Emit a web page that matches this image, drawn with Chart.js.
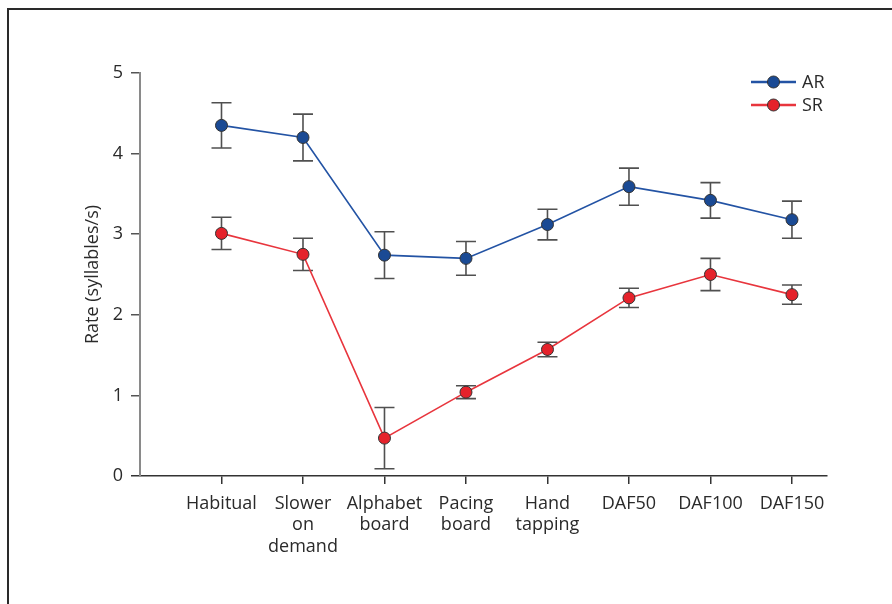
<!DOCTYPE html>
<html>
<head>
<meta charset="utf-8">
<script src="https://cdn.jsdelivr.net/npm/chart.js@4"></script>
<style>
  html, body { margin: 0; padding: 0; background: #fff; }
  #wrap { position: relative; width: 892px; height: 604px; }
  #frame { position: absolute; left: 7px; top: 8px; right: -4px; bottom: -4px;
           border-left: 2px solid #2a2a2a; border-top: 2px solid #2a2a2a; pointer-events: none; }
  canvas { position: absolute; left: 0; top: 0; }
</style>
</head>
<body>
<div id="wrap">
  <canvas id="c" width="892" height="604"></canvas>
  <div id="frame"></div>
</div>
<script>
// Conditions (x positions 1..8 on a linear axis)
const conditions = [
  'Habitual', ['Slower', 'on', 'demand'], ['Alphabet', 'board'], ['Pacing', 'board'],
  ['Hand', 'tapping'], 'DAF50', 'DAF100', 'DAF150'
];
// Articulation rate (AR) and speech rate (SR), syllables/s
const arMean = [4.35, 4.20, 2.74, 2.70, 3.12, 3.59, 3.42, 3.18];
const arErr  = [0.28, 0.29, 0.29, 0.21, 0.19, 0.23, 0.22, 0.23];
const srMean = [3.01, 2.75, 0.47, 1.04, 1.57, 2.21, 2.50, 2.25];
const srErr  = [0.20, 0.20, 0.38, 0.08, 0.09, 0.12, 0.20, 0.12];
const yTicks = [0, 1, 2, 3, 4, 5];

const FONT = '"Open Sans", "Noto Sans", sans-serif';
const TEXT = '#2a2a2a';

const toPoints = (vals) => vals.map((v, i) => ({ x: i + 1, y: v }));

const series = [
  { label: 'AR', mean: arMean, err: arErr, line: '#2353a4', fill: '#1a4a94' },
  { label: 'SR', mean: srMean, err: srErr, line: '#e8353d', fill: '#e5222b' }
];

// Error bars, drawn under the lines and markers
const errorBars = {
  id: 'errorBars',
  beforeDatasetsDraw(chart) {
    const { ctx, scales: { x, y } } = chart;
    ctx.save();
    ctx.strokeStyle = '#505050';
    ctx.lineWidth = 1.6;
    series.forEach(s => {
      s.mean.forEach((m, i) => {
        const px = x.getPixelForValue(i + 1);
        const top = y.getPixelForValue(m + s.err[i]);
        const bot = y.getPixelForValue(m - s.err[i]);
        ctx.beginPath();
        ctx.moveTo(px, top); ctx.lineTo(px, bot);
        ctx.moveTo(px - 10, top); ctx.lineTo(px + 10, top);
        ctx.moveTo(px - 10, bot); ctx.lineTo(px + 10, bot);
        ctx.stroke();
      });
    });
    ctx.restore();
  }
};

// Legend in the upper right of the plot
const lineLegend = {
  id: 'lineLegend',
  afterDraw(chart) {
    const { ctx } = chart;
    ctx.save();
    series.forEach((s, k) => {
      const yy = 82 + k * 23;
      ctx.strokeStyle = s.line;
      ctx.lineWidth = 2.5;
      ctx.beginPath(); ctx.moveTo(751, yy); ctx.lineTo(796, yy); ctx.stroke();
      ctx.beginPath(); ctx.arc(773.5, yy, 6, 0, Math.PI * 2);
      ctx.fillStyle = s.fill; ctx.fill();
      ctx.lineWidth = 1; ctx.strokeStyle = '#333'; ctx.stroke();
      ctx.fillStyle = TEXT;
      ctx.font = '18px ' + FONT;
      ctx.textBaseline = 'middle';
      ctx.fillText(s.label, 802, yy + 1);
    });
    ctx.restore();
  }
};

new Chart(document.getElementById('c'), {
  type: 'line',
  data: {
    datasets: series.map(s => ({
      label: s.label,
      data: toPoints(s.mean),
      borderColor: s.line,
      borderWidth: 1.6,
      pointRadius: 6,
      pointHoverRadius: 6,
      pointBackgroundColor: s.fill,
      pointBorderColor: '#333',
      pointBorderWidth: 1,
      tension: 0
    }))
  },
  options: {
    responsive: false,
    animation: false,
    events: [],
    layout: { padding: { left: 82, top: 73, right: 65, bottom: 0 } },
    plugins: { legend: { display: false }, tooltip: { enabled: false } },
    scales: {
      x: {
        type: 'linear',
        min: 0,
        max: 8.43,
        afterBuildTicks(axis) { axis.ticks = conditions.map((_, i) => ({ value: i + 1 })); },
        afterFit(scale) { scale.height = 128; },
        border: { display: true, color: '#333', width: 1.5 },
        grid: { drawOnChartArea: false, drawTicks: true, tickLength: 8, color: '#333', lineWidth: 1.5 },
        ticks: {
          autoSkip: false,
          maxRotation: 0,
          padding: 9,
          color: TEXT,
          font: { family: FONT, size: 18, lineHeight: 1.19 },
          callback: (v) => conditions[v - 1]
        }
      },
      y: {
        min: 0,
        max: 5,
        afterBuildTicks(axis) { axis.ticks = yTicks.map(v => ({ value: v })); },
        afterFit(scale) { scale.width = 58; },
        border: { display: true, color: '#8a8a8a', width: 2 },
        grid: {
          drawOnChartArea: false, drawTicks: true, tickLength: 9, lineWidth: 1.5,
          color: (c) => (c.tick && c.tick.value === 0 ? '#333' : '#555')
        },
        ticks: {
          padding: 8,
          color: TEXT,
          font: { family: FONT, size: 18 }
        },
        title: {
          display: true,
          text: 'Rate (syllables/s)',
          color: TEXT,
          font: { family: FONT, size: 18, lineHeight: 1.2 },
          padding: { top: 0, bottom: 0 }
        }
      }
    }
  },
  plugins: [errorBars, lineLegend]
});
</script>
</body>
</html>
